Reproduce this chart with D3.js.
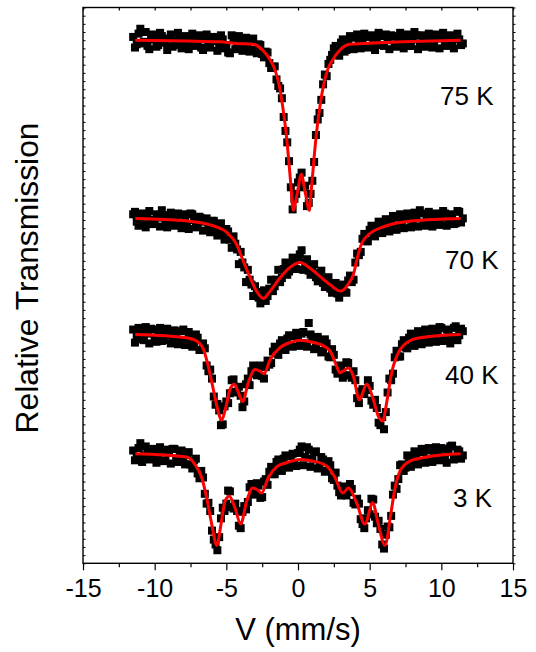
<!DOCTYPE html>
<html>
<head>
<meta charset="utf-8">
<script src="https://cdn.jsdelivr.net/npm/d3@7"></script>
<style>
  html, body { margin: 0; padding: 0; background: #fff; }
  svg { display: block; font-family: "Liberation Sans", Arial, Helvetica, sans-serif; }
</style>
</head>
<body>
<svg id="chart" width="536" height="652"></svg>
<script>
// Mössbauer spectra, relative transmission vs. source velocity (mm/s)
const temperatures = ["75 K", "70 K", "40 K", "3 K"];
// vertical stacking of each spectrum (added to transmission)
const offsets = [0, -0.218, -0.36, -0.506];

// channel velocities (mm/s), two interleaved channel sets
const velocity = [-11.5,-11.25,-11,-10.75,-10.5,-10.25,-10,-9.75,-9.5,-9.25,-9,-8.75,-8.5,-8.25,-8,-7.75,-7.5,-7.25,-7,-6.75,-6.5,-6.25,-6,-5.75,-5.5,-5.25,-5,-4.75,-4.5,-4.25,-4,-3.75,-3.5,-3.25,-3,-2.75,-2.5,-2.25,-2,-1.75,-1.5,-1.25,-1,-0.75,-0.5,-0.25,0,0.25,0.5,0.75,1,1.25,1.5,1.75,2,2.25,2.5,2.75,3,3.25,3.5,3.75,4,4.25,4.5,4.75,5,5.25,5.5,5.75,6,6.25,6.5,6.75,7,7.25,7.5,7.75,8,8.25,8.5,8.75,9,9.25,9.5,9.75,10,10.25,10.5,10.75,11,11.25,11.5];
const velocityB = [-11.375,-11.125,-10.875,-10.625,-10.375,-10.125,-9.875,-9.625,-9.375,-9.125,-8.875,-8.625,-8.375,-8.125,-7.875,-7.625,-7.375,-7.125,-6.875,-6.625,-6.375,-6.125,-5.875,-5.625,-5.375,-5.125,-4.875,-4.625,-4.375,-4.125,-3.875,-3.625,-3.375,-3.125,-2.875,-2.625,-2.375,-2.125,-1.875,-1.625,-1.375,-1.125,-0.875,-0.625,-0.375,-0.125,0.125,0.375,0.625,0.875,1.125,1.375,1.625,1.875,2.125,2.375,2.625,2.875,3.125,3.375,3.625,3.875,4.125,4.375,4.625,4.875,5.125,5.375,5.625,5.875,6.125,6.375,6.625,6.875,7.125,7.375,7.625,7.875,8.125,8.375,8.625,8.875,9.125,9.375,9.625,9.875,10.125,10.375,10.625,10.875,11.125,11.375];

// measured relative transmission
const trans75 = [1.004,0.995,1.014,0.998,0.993,1.003,1.001,0.994,1.005,0.997,1.002,0.992,0.999,1.004,0.996,1.002,0.994,1.003,0.997,0.991,1.002,0.995,1.003,0.999,0.992,1.001,0.994,0.984,1.000,0.993,1.001,0.995,0.990,0.999,0.988,0.995,0.983,0.986,0.972,0.966,0.952,0.941,0.906,0.875,0.820,0.806,0.826,0.838,0.822,0.801,0.828,0.884,0.911,0.946,0.956,0.976,0.990,0.988,0.997,0.986,1.000,0.991,1.003,0.994,0.999,1.004,0.992,1.001,0.996,1.005,0.993,1.000,1.006,0.995,1.002,0.997,1.004,0.993,1.001,1.006,0.996,1.003,0.998,1.005,0.994,1.002,1.006,0.997,1.003,0.995,1.004,1.001,0.996];
const trans75b = [0.991,1.008,0.996,1.010,0.989,1.007,0.992,1.009,0.998,0.988,1.007,0.994,1.009,0.990,1.005,0.989,1.008,0.993,1.006,0.988,1.007,0.991,1.004,0.987,1.006,0.990,0.985,1.006,0.989,1.005,0.987,1.003,0.986,1.002,0.984,0.994,0.979,0.985,0.966,0.968,0.944,0.929,0.889,0.852,0.793,0.812,0.832,0.820,0.797,0.812,0.851,0.903,0.927,0.958,0.971,0.982,0.993,0.981,1.001,0.988,1.005,0.989,1.007,0.990,1.008,0.991,1.006,0.988,1.009,0.994,1.007,0.989,1.005,0.992,1.009,0.990,1.007,0.993,1.010,0.989,1.006,0.992,1.008,0.991,1.007,0.990,1.009,0.993,1.006,0.990,1.008,0.994];
const trans70 = [1.005,0.996,1.002,0.993,1.004,0.998,0.994,1.001,1.010,0.996,1.002,0.992,1.000,0.995,1.005,0.993,1.006,0.998,0.991,1.000,0.996,0.988,0.997,0.985,0.992,0.981,0.987,0.974,0.978,0.962,0.959,0.940,0.937,0.919,0.917,0.903,0.906,0.899,0.914,0.911,0.925,0.922,0.938,0.931,0.944,0.939,0.950,0.961,0.946,0.936,0.941,0.928,0.933,0.921,0.926,0.914,0.919,0.908,0.913,0.910,0.924,0.922,0.946,0.955,0.975,0.972,0.986,0.980,0.989,0.983,0.995,0.987,0.998,0.991,1.001,0.993,0.999,1.003,0.992,1.000,1.010,0.995,1.002,0.996,1.004,0.993,1.001,1.006,0.996,1.003,0.994,1.008,1.000];
const trans70b = [1.008,0.991,1.006,0.989,1.009,0.993,1.005,0.990,1.004,0.989,1.007,0.991,1.006,0.988,1.003,0.987,1.005,0.989,1.002,0.985,1.000,0.983,0.997,0.979,0.994,0.974,0.984,0.964,0.969,0.944,0.946,0.922,0.925,0.905,0.910,0.896,0.912,0.905,0.925,0.917,0.937,0.927,0.946,0.935,0.952,0.938,0.956,0.937,0.950,0.931,0.944,0.923,0.936,0.916,0.928,0.909,0.921,0.903,0.919,0.909,0.930,0.925,0.957,0.959,0.981,0.972,0.991,0.978,0.996,0.982,0.999,0.984,1.003,0.986,1.005,0.988,1.006,0.989,1.007,0.990,1.006,0.991,1.008,0.990,1.006,0.992,1.009,0.991,1.005,0.993,1.009,0.995];
const trans40 = [1.006,0.997,1.003,0.993,1.001,1.007,0.995,1.002,0.992,0.999,1.004,0.994,1.000,0.991,1.006,0.993,0.999,0.988,0.996,0.981,0.983,0.955,0.946,0.914,0.907,0.890,0.918,0.928,0.945,0.929,0.925,0.918,0.946,0.955,0.952,0.961,0.949,0.960,0.963,0.979,0.977,0.989,0.983,0.995,0.987,0.998,0.996,1.001,0.989,1.014,0.995,0.984,0.993,0.980,0.989,0.972,0.975,0.952,0.961,0.950,0.965,0.947,0.944,0.916,0.933,0.932,0.937,0.914,0.910,0.889,0.884,0.929,0.944,0.972,0.973,0.988,0.984,0.996,0.989,0.999,0.993,1.002,0.994,1.004,0.996,1.001,1.008,0.995,1.003,0.997,1.010,0.999,1.004];
const trans40b = [0.990,1.008,0.994,1.009,0.989,1.006,0.991,1.008,0.993,1.007,0.989,1.005,0.988,1.004,0.987,1.003,0.985,1.000,0.981,0.989,0.962,0.957,0.924,0.915,0.889,0.912,0.916,0.944,0.930,0.936,0.911,0.939,0.938,0.962,0.950,0.962,0.946,0.968,0.965,0.985,0.975,0.993,0.981,0.999,0.985,1.002,0.986,1.003,0.985,1.000,0.982,0.997,0.978,0.994,0.973,0.982,0.957,0.962,0.947,0.966,0.950,0.955,0.922,0.930,0.927,0.944,0.919,0.920,0.892,0.899,0.905,0.946,0.952,0.980,0.973,0.993,0.983,1.001,0.986,1.004,0.988,1.006,0.990,1.007,0.991,1.009,0.992,1.006,0.989,1.008,0.993,1.007];
const trans3 = [1.004,0.995,1.013,0.998,1.003,0.994,1.005,0.997,1.002,0.992,1.001,1.006,0.994,0.999,0.990,1.001,0.987,0.992,0.976,0.979,0.951,0.940,0.906,0.889,0.898,0.934,0.939,0.954,0.933,0.930,0.909,0.936,0.941,0.963,0.951,0.961,0.947,0.969,0.978,0.975,0.990,0.982,0.994,0.986,0.997,0.988,1.001,1.009,0.996,1.005,0.994,1.003,0.984,0.993,0.979,0.986,0.968,0.961,0.949,0.960,0.953,0.957,0.938,0.939,0.914,0.921,0.926,0.944,0.915,0.908,0.884,0.911,0.924,0.961,0.969,0.987,0.983,0.995,0.988,0.998,0.991,1.002,0.993,1.004,0.997,1.001,1.007,0.996,1.002,1.010,0.995,1.003,0.998];
const trans3b = [0.992,1.007,0.990,1.009,0.993,1.006,0.989,1.008,0.991,1.005,0.988,1.006,0.990,1.004,0.987,1.002,0.982,0.994,0.970,0.971,0.939,0.930,0.895,0.882,0.921,0.930,0.955,0.935,0.939,0.912,0.929,0.932,0.959,0.950,0.964,0.946,0.966,0.962,0.984,0.975,0.993,0.979,0.998,0.983,1.000,0.985,1.005,0.986,1.008,0.984,1.002,0.982,0.996,0.978,0.991,0.970,0.977,0.953,0.959,0.949,0.963,0.940,0.945,0.920,0.909,0.931,0.945,0.923,0.918,0.889,0.901,0.910,0.950,0.957,0.986,0.979,0.998,0.984,1.003,0.987,1.006,0.989,1.007,0.990,1.008,0.992,1.006,0.989,1.009,0.993,1.005,0.994];

// fitted transmission curves (velocity, transmission)
const fit75V = [-11.35,-7.76,-5.44,-4.3,-3.12,-2.42,-1.95,-1.61,-1.3,-1.07,-0.86,-0.65,-0.47,-0.33,-0.04,0.23,0.5,0.79,0.93,1.11,1.32,1.53,1.77,2.07,2.42,2.88,3.58,4.6,7.35,11.35];
const fit75T = [1.000,0.999,0.998,0.996,0.995,0.987,0.976,0.964,0.944,0.919,0.891,0.854,0.817,0.792,0.814,0.836,0.814,0.792,0.817,0.854,0.891,0.919,0.944,0.964,0.976,0.987,0.995,0.996,0.998,1.000];
const fit70V = [-11.35,-7.77,-5.91,-4.98,-4.28,-3.82,-3.35,-2.89,-2.42,-1.95,-1.26,-0.56,0.14,0.84,1.53,2.23,2.98,3.63,3.86,4.09,4.33,4.91,6.19,8.05,11.35];
const fit70T = [1.000,0.997,0.991,0.983,0.968,0.948,0.928,0.911,0.902,0.911,0.927,0.940,0.946,0.939,0.929,0.919,0.911,0.923,0.931,0.948,0.964,0.980,0.991,0.997,1.000];
const fit40V = [-11.35,-7.77,-7.07,-6.6,-6.26,-5.91,-5.56,-5.33,-5.02,-4.74,-4.44,-4.16,-3.86,-3.47,-3.0,-2.65,-2.37,-1.95,-1.26,-0.56,0.14,0.84,1.53,2.23,2.7,2.93,3.51,3.86,4.28,4.79,5.26,5.6,5.91,6.19,6.53,6.88,7.58,8.51,11.35];
const fit40T = [1.000,0.996,0.992,0.982,0.961,0.933,0.905,0.895,0.912,0.933,0.939,0.929,0.918,0.941,0.957,0.955,0.952,0.969,0.984,0.990,0.993,0.991,0.988,0.980,0.961,0.953,0.959,0.949,0.920,0.939,0.920,0.900,0.894,0.917,0.953,0.973,0.990,0.996,1.000];
const fit3V = [-11.35,-7.77,-7.19,-6.72,-6.37,-6.02,-5.67,-5.37,-5.09,-4.79,-4.4,-4.0,-3.58,-3.16,-2.84,-2.54,-2.07,-1.49,-0.79,0.14,1.07,2.0,2.58,3.12,3.51,4.09,4.67,5.21,5.6,6.07,6.47,6.77,7.12,7.81,8.98,11.35];
const fit3T = [1.000,0.996,0.987,0.971,0.946,0.914,0.888,0.914,0.942,0.948,0.934,0.914,0.942,0.958,0.956,0.952,0.971,0.984,0.989,0.993,0.991,0.985,0.971,0.952,0.958,0.940,0.914,0.940,0.914,0.888,0.926,0.958,0.979,0.991,0.996,1.000];

// axis ticks
const xMajorTicks = [-15, -10, -5, 0, 5, 10, 15];
const xMinorTicks = [-12.5, -7.5, -2.5, 2.5, 7.5, 12.5];
const yRange = [0.36, 1.04];

const spectra = [
  { label: temperatures[0], offset: offsets[0], trans: trans75, transB: trans75b, fitV: fit75V, fitT: fit75T },
  { label: temperatures[1], offset: offsets[1], trans: trans70, transB: trans70b, fitV: fit70V, fitT: fit70T },
  { label: temperatures[2], offset: offsets[2], trans: trans40, transB: trans40b, fitV: fit40V, fitT: fit40T },
  { label: temperatures[3], offset: offsets[3], trans: trans3,  transB: trans3b,  fitV: fit3V,  fitT: fit3T }
];

// ---- layout ----
const plot = { left: 83, right: 513, top: 7.5, bottom: 563.3 };
const labelPlace = [ { x: 440, dy: 64.8 }, { x: 445, dy: 50.6 }, { x: 445, dy: 49.6 }, { x: 453, dy: 53.2 } ];
const markSize = 8;

const svg = d3.select("#chart");
svg.append("rect").attr("width", 536).attr("height", 652).attr("fill", "#fff");

const x = d3.scaleLinear().domain([-15, 15]).range([plot.left, plot.right]);
const y = d3.scaleLinear().domain(yRange).range([plot.bottom, plot.top]);

// data squares
spectra.forEach(s => {
  const pts = velocity.map((v, i) => [v, s.trans[i] + s.offset])
    .concat(velocityB.map((v, i) => [v, s.transB[i] + s.offset]));
  svg.append("g")
    .selectAll("rect")
    .data(pts)
    .join("rect")
    .attr("x", d => x(d[0]) - markSize / 2)
    .attr("y", d => y(d[1]) - markSize / 2)
    .attr("width", markSize)
    .attr("height", markSize)
    .attr("fill", "#000");
});

// fitted curves
const line = d3.line()
  .x(d => x(d[0]))
  .y(d => y(d[1]))
  .curve(d3.curveMonotoneX);

spectra.forEach(s => {
  svg.append("path")
    .datum(s.fitV.map((v, i) => [v, s.fitT[i] + s.offset]))
    .attr("d", line)
    .attr("fill", "none")
    .attr("stroke", "#ff0000")
    .attr("stroke-width", 3)
    .attr("stroke-linejoin", "round");
});

// temperature labels
spectra.forEach((s, i) => {
  svg.append("text")
    .attr("x", labelPlace[i].x)
    .attr("y", y(1 + s.offset) + labelPlace[i].dy)
    .attr("font-size", 26)
    .attr("fill", "#000")
    .text(s.label);
});

// ---- axes ----
function styleAxis(g) {
  g.select(".domain").remove();
  g.selectAll(".tick line").attr("stroke", "#000").attr("stroke-width", 1.2);
}

// bottom: major ticks with labels
svg.append("g")
  .attr("transform", `translate(0,${plot.bottom})`)
  .call(d3.axisBottom(x).tickValues(xMajorTicks).tickSize(7).tickSizeOuter(0).tickPadding(9)
    .tickFormat(d => d3.format("d")(d).replace("\u2212", "-")))
  .call(styleAxis)
  .call(g => g.selectAll("text").attr("font-size", 25).attr("fill", "#000")
    .attr("font-family", "Liberation Sans, Arial, Helvetica, sans-serif"));

// bottom: minor ticks
svg.append("g")
  .attr("transform", `translate(0,${plot.bottom})`)
  .call(d3.axisBottom(x).tickValues(xMinorTicks).tickSize(4).tickSizeOuter(0).tickFormat(""))
  .call(styleAxis);

// top: inward ticks
svg.append("g")
  .attr("transform", `translate(0,${plot.top})`)
  .call(d3.axisTop(x).tickValues(xMajorTicks.concat(xMinorTicks)).tickSize(-3).tickSizeOuter(0).tickFormat(""))
  .call(styleAxis);

// y ticks every 0.01 transmission
const yTicks = d3.range(Math.round(yRange[0] * 100), Math.round(yRange[1] * 100) + 1).map(k => k / 100);

svg.append("g")
  .attr("transform", `translate(${plot.left},0)`)
  .call(d3.axisLeft(y).tickValues(yTicks).tickSize(-2.5).tickSizeOuter(0).tickFormat(""))
  .call(styleAxis)
  .call(g => g.selectAll(".tick line").attr("stroke-width", 1));

svg.append("g")
  .attr("transform", `translate(${plot.right},0)`)
  .call(d3.axisRight(y).tickValues(yTicks).tickSize(2.5).tickSizeOuter(0).tickFormat(""))
  .call(styleAxis)
  .call(g => g.selectAll(".tick line").attr("stroke-width", 1));

// frame
svg.append("rect")
  .attr("x", plot.left)
  .attr("y", plot.top)
  .attr("width", plot.right - plot.left)
  .attr("height", plot.bottom - plot.top)
  .attr("fill", "none")
  .attr("stroke", "#000")
  .attr("stroke-width", 1.4);

// axis titles
svg.append("text")
  .attr("x", (plot.left + plot.right) / 2)
  .attr("y", 640)
  .attr("text-anchor", "middle")
  .attr("font-size", 31)
  .attr("fill", "#000")
  .text("V (mm/s)");

svg.append("text")
  .attr("transform", "translate(38,278) rotate(-90)")
  .attr("text-anchor", "middle")
  .attr("font-size", 31.8)
  .attr("fill", "#000")
  .text("Relative Transmission");
</script>
</body>
</html>
